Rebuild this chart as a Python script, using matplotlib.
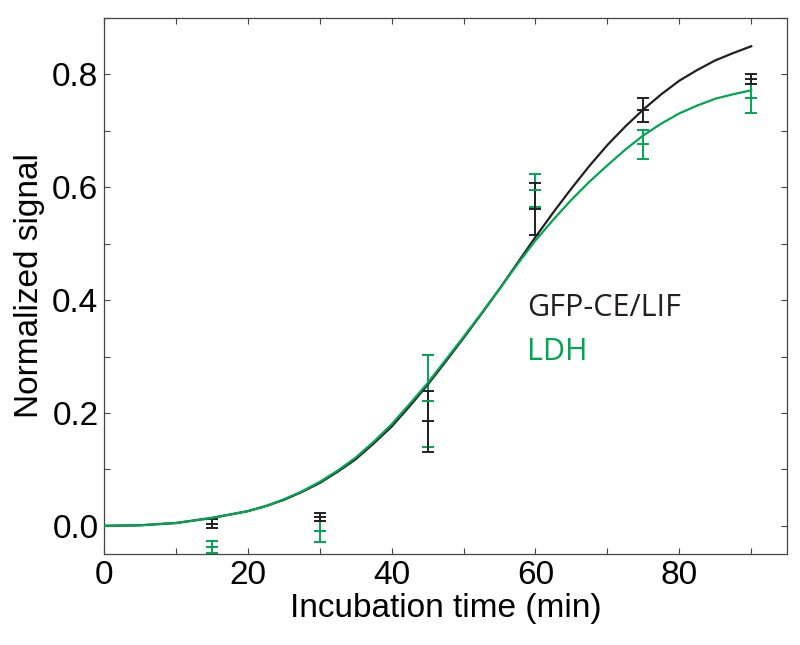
import numpy as np
import matplotlib
matplotlib.use("Agg")
import matplotlib.pyplot as plt
from matplotlib.ticker import MultipleLocator

# measured points (time in min, mean, error)
times = [15, 30, 45, 60, 75, 90]
gfp_mean = [0.004, 0.015, 0.185, 0.562, 0.737, 0.792]
gfp_err = [0.008, 0.007, 0.054, 0.046, 0.022, 0.008]
ldh_mean = [-0.037, -0.010, 0.221, 0.595, 0.676, 0.758]
ldh_err = [0.011, 0.018, 0.081, 0.029, 0.025, 0.026]

# fitted curves
fit_t = [0, 5, 10, 15, 20, 22.5, 25, 27.5, 30, 32.5, 35, 37.5, 40, 42.5, 45,
         47.5, 50, 52.5, 55, 57.5, 60, 62.5, 65, 67.5, 70, 72.5, 75, 77.5,
         80, 82.5, 85, 87.5, 90]
gfp_fit = [0.0, 0.001, 0.005, 0.014, 0.026, 0.035, 0.046, 0.060, 0.076, 0.096,
           0.118, 0.146, 0.176, 0.212, 0.250, 0.291, 0.333, 0.376, 0.420, 0.466,
           0.512, 0.556, 0.598, 0.638, 0.675, 0.708, 0.738, 0.765, 0.789, 0.808,
           0.825, 0.838, 0.850]
ldh_fit = [0.0, 0.001, 0.005, 0.014, 0.026, 0.035, 0.047, 0.061, 0.078, 0.098,
           0.121, 0.149, 0.180, 0.216, 0.253, 0.294, 0.335, 0.377, 0.420, 0.464,
           0.506, 0.543, 0.578, 0.610, 0.639, 0.667, 0.692, 0.713, 0.731, 0.745,
           0.757, 0.765, 0.772]

black = "#231f20"
green = "#00a651"

plt.rcParams['font.family'] = ['Liberation Sans', 'DejaVu Sans']

fig = plt.figure(figsize=(8, 6.45), dpi=100)
ax = fig.add_axes([0.13, 0.141, 0.854, 0.831])

ax.plot(fit_t, gfp_fit, color=black, lw=1.6, zorder=3)
ax.plot(fit_t, ldh_fit, color=green, lw=1.6, zorder=3)

ax.errorbar(times, ldh_mean, yerr=ldh_err, fmt='_', color=green, ms=8,
            mew=1.4, elinewidth=1.4, capsize=4, capthick=1.4, zorder=2)
ax.errorbar(times, gfp_mean, yerr=gfp_err, fmt='_', color=black, ms=8,
            mew=1.4, elinewidth=1.4, capsize=4, capthick=1.4, zorder=2)

ax.text(58.8, 0.386, "GFP-CE/LIF", color=black, fontsize=22,
        family=['Open Sans', 'DejaVu Sans'], va='center', ha='left')
ax.text(58.8, 0.309, "LDH", color=green, fontsize=22,
        family=['Open Sans', 'DejaVu Sans'], va='center', ha='left')

ax.set_xlim(0, 95)
ax.set_ylim(-0.05, 0.9)
ax.xaxis.set_major_locator(MultipleLocator(20))
ax.xaxis.set_minor_locator(MultipleLocator(10))
ax.yaxis.set_minor_locator(MultipleLocator(0.1))
ax.set_yticks([0.0, 0.2, 0.4, 0.6, 0.8])
ax.set_yticklabels(["0.0", "0.2", "0.4", "0.6", "0.8"])

ax.tick_params(which='both', direction='in', top=True, right=True,
               length=4.5, width=0.8, color='#444444', labelsize=24, pad=4)
for s in ax.spines.values():
    s.set_color('#444444')
    s.set_linewidth(0.9)

ax.set_xlabel("Incubation time (min)", fontsize=24, labelpad=2)
ax.set_ylabel("Normalized signal", fontsize=24, labelpad=5)

fig.savefig("out.png", dpi=100)
